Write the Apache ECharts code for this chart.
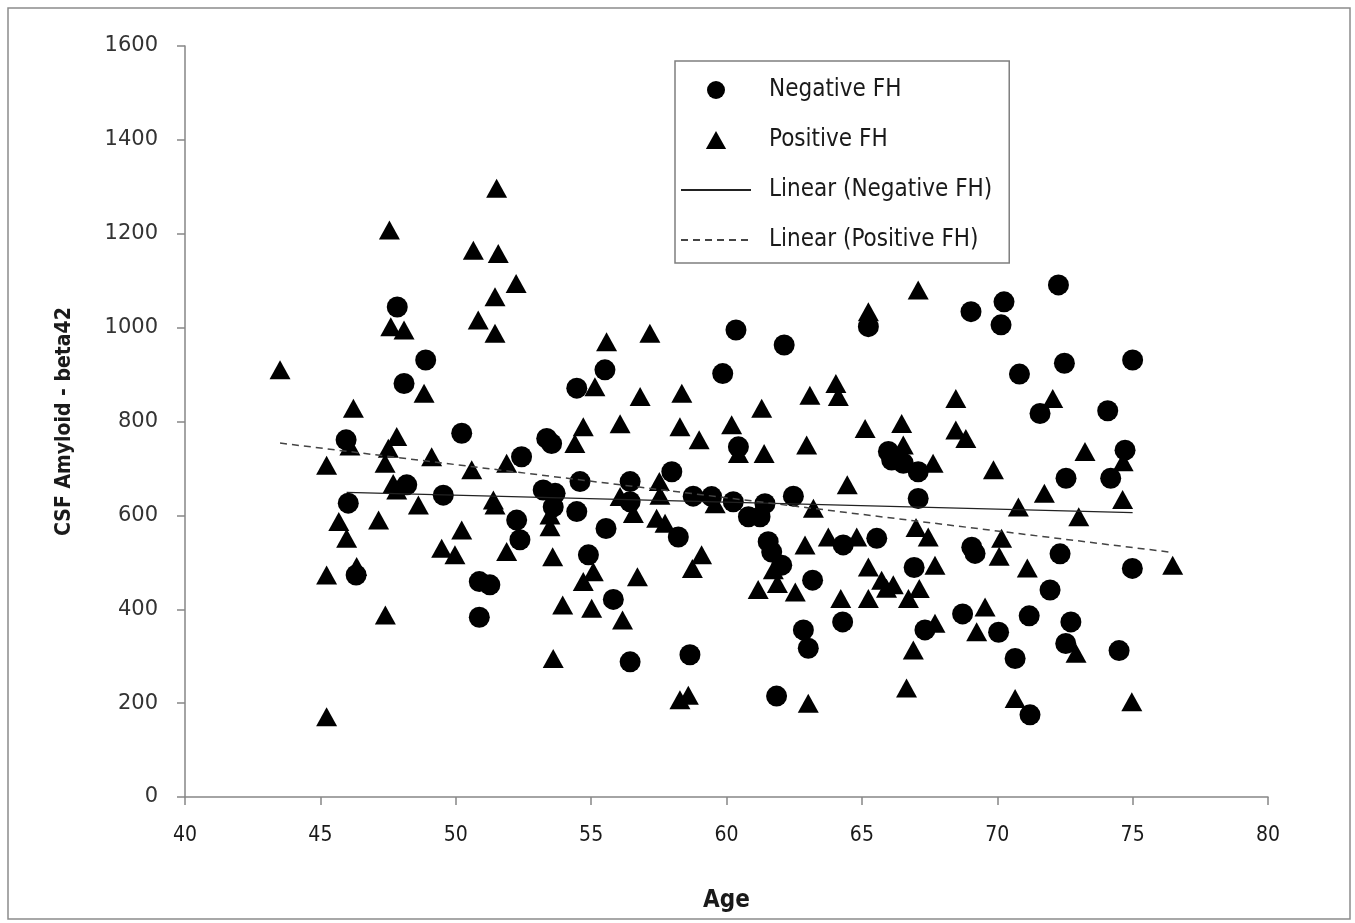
<!DOCTYPE html>
<html>
<head>
<meta charset="utf-8">
<title>CSF Amyloid - beta42 vs Age</title>
<script src="https://cdn.jsdelivr.net/npm/echarts@6/dist/echarts.min.js"></script>
<style>
  html, body { margin: 0; padding: 0; background: #fff; }
  #chart { width: 1355px; height: 923px; }
</style>
</head>
<body>
<div id="chart"></div>
<script>
// axis ticks
const xTicks = [40, 45, 50, 55, 60, 65, 70, 75, 80];
const yTicks = [0, 200, 400, 600, 800, 1000, 1200, 1400, 1600];

// Negative FH  [age, CSF amyloid beta42]
const negativeFH = [
  [47.84, 1044], [48.89, 931], [48.09, 881], [50.22, 775], [45.95, 761],
  [46.03, 626], [46.32, 473], [48.19, 665], [49.54, 643], [50.87, 459],
  [51.26, 452], [50.87, 383], [52.25, 590], [52.37, 548], [52.43, 725],
  [53.23, 654], [53.67, 647], [53.60, 618], [53.36, 764], [53.54, 753],
  [54.47, 871], [55.51, 910], [54.59, 672], [54.47, 608], [55.55, 572],
  [54.90, 516], [55.82, 421], [56.44, 288], [56.44, 672], [56.44, 629],
  [57.98, 693], [58.22, 554], [58.65, 303], [58.77, 641], [59.45, 640],
  [59.86, 902], [60.35, 995], [60.44, 746], [60.25, 629], [60.81, 597],
  [61.24, 597], [61.42, 625], [61.54, 544], [61.67, 522], [62.04, 494],
  [61.85, 215], [62.13, 963], [62.47, 641], [62.84, 356], [63.02, 317],
  [63.18, 462], [64.31, 537], [64.29, 373], [65.24, 1002], [65.55, 551],
  [65.98, 736], [66.10, 718], [66.53, 711], [67.08, 693], [67.08, 636],
  [66.93, 489], [67.33, 356], [68.72, 390], [69.03, 1034], [69.06, 532],
  [69.18, 519], [70.05, 351], [70.25, 1055], [70.14, 1006], [70.66, 295],
  [70.82, 901], [71.18, 386], [71.21, 175], [71.58, 817], [71.95, 441],
  [72.26, 1091], [72.32, 518], [72.48, 924], [72.54, 679], [72.53, 327],
  [72.72, 373], [74.08, 823], [74.19, 679], [74.50, 312], [74.72, 739],
  [75.00, 931], [74.99, 487]
];

// Positive FH  [age, CSF amyloid beta42]
const positiveFH = [
  [43.51, 910], [45.23, 707], [45.23, 473], [45.23, 171], [45.68, 587],
  [45.97, 551], [46.09, 748], [46.22, 828], [46.34, 491], [47.15, 590],
  [47.40, 388], [47.39, 711], [47.51, 743], [47.55, 1208], [47.60, 1002],
  [47.82, 768], [47.69, 668], [47.82, 654], [48.09, 995], [48.62, 622],
  [48.83, 860], [49.11, 725], [49.48, 530], [49.97, 516], [50.22, 569],
  [50.59, 697], [50.65, 1165], [50.83, 1016], [51.39, 633], [51.45, 622],
  [51.45, 1066], [51.45, 988], [51.51, 1297], [51.57, 1158], [51.88, 523],
  [51.88, 711], [52.23, 1094], [53.48, 601], [53.48, 576], [53.58, 512],
  [53.60, 295], [53.95, 409], [54.40, 753], [54.71, 789], [55.08, 480],
  [54.71, 459], [55.02, 402], [55.14, 874], [55.57, 970], [56.07, 795],
  [56.07, 640], [56.16, 377], [56.56, 604], [56.71, 469], [56.81, 853],
  [57.17, 988], [57.42, 594], [57.73, 583], [57.52, 672], [57.54, 643],
  [58.28, 789], [58.35, 860], [58.28, 207], [58.59, 217], [58.74, 487],
  [59.08, 516], [58.99, 761], [59.58, 625], [60.19, 793], [60.44, 732],
  [61.17, 442], [61.30, 828], [61.39, 732], [61.73, 484], [61.88, 455],
  [62.54, 437], [62.90, 537], [62.96, 750], [63.02, 200], [63.08, 856],
  [63.21, 615], [63.76, 554], [64.04, 881], [64.13, 853], [64.22, 423],
  [64.46, 665], [64.81, 554], [65.12, 785], [65.24, 1034], [65.24, 490],
  [65.24, 423], [65.73, 462], [66.16, 452], [65.91, 445], [66.47, 796],
  [66.53, 750], [66.65, 232], [66.90, 313], [66.72, 423], [67.12, 444],
  [67.00, 574], [67.45, 554], [67.08, 1080], [67.63, 711], [67.70, 494],
  [67.70, 370], [68.47, 849], [68.47, 782], [68.84, 764], [69.24, 352],
  [69.55, 405], [69.86, 697], [70.07, 513], [70.16, 551], [70.66, 210],
  [70.78, 618], [71.11, 488], [71.74, 647], [72.05, 849], [72.91, 306],
  [73.01, 597], [73.24, 736], [74.63, 634], [74.65, 714], [74.97, 203],
  [76.48, 494]
];

// trend lines, end points
const trendNegative = [[45.97, 649], [75.0, 606]];
const trendPositive = [[43.51, 754], [76.48, 521]];

const axisGrey = "#868686";
const condensed = "'DejaVu Sans Condensed', 'Liberation Sans Narrow', 'DejaVu Sans', sans-serif";

const chart = echarts.init(document.getElementById("chart"));

const option = {
  backgroundColor: "#fff",
  animation: false,
  graphic: [
    {
      type: "rect",
      shape: { x: 8, y: 8, width: 1342, height: 911 },
      style: { fill: "none", stroke: "#8c8c8c", lineWidth: 1.5 },
      silent: true
    }
  ],
  grid: { left: 185, right: 87, top: 46, bottom: 126 },
  legend: {
    orient: "vertical",
    left: 675,
    top: 61,
    padding: [17, 17, 11, 5],
    itemGap: 26,
    itemWidth: 70,
    itemHeight: 18,
    borderColor: "#7f7f7f",
    borderWidth: 1.5,
    textStyle: {
      fontFamily: condensed,
      fontSize: 24,
      color: "#1a1a1a",
      padding: [0, 0, 0, 13]
    },
    data: [
      { name: "Negative FH", icon: "circle" },
      { name: "Positive FH", icon: "path://M9,0 L18,16 L0,16 Z" },
      { name: "Linear (Negative FH)", itemStyle: { opacity: 0 } },
      { name: "Linear (Positive FH)", itemStyle: { opacity: 0 } }
    ]
  },
  xAxis: {
    type: "value",
    min: 40,
    max: 80,
    interval: 5,
    name: "Age",
    nameLocation: "middle",
    nameGap: 92,
    nameTextStyle: { fontFamily: condensed, fontWeight: "bold", fontSize: 24, color: "#1a1a1a" },
    axisLine: { show: true, onZero: false, lineStyle: { color: axisGrey, width: 1.5 } },
    axisTick: { show: true, length: 8, lineStyle: { color: axisGrey, width: 1.5 } },
    axisLabel: {
      margin: 28,
      fontFamily: condensed,
      fontSize: 21,
      color: "#1a1a1a",
      customValues: xTicks
    },
    splitLine: { show: false }
  },
  yAxis: {
    type: "value",
    min: 0,
    max: 1600,
    interval: 200,
    name: "CSF Amyloid - beta42",
    nameLocation: "middle",
    nameGap: 110,
    nameTextStyle: { fontFamily: condensed, fontWeight: "bold", fontSize: 21, color: "#1a1a1a" },
    axisLine: { show: true, lineStyle: { color: axisGrey, width: 1.5 } },
    axisTick: { show: true, length: 8, lineStyle: { color: axisGrey, width: 1.5 } },
    axisLabel: {
      margin: 27,
      fontFamily: "'DejaVu Sans', sans-serif",
      fontSize: 21,
      color: "#333",
      customValues: yTicks,
      formatter: (v) => String(v)
    },
    splitLine: { show: false }
  },
  series: [
    {
      name: "Negative FH",
      type: "scatter",
      symbol: "circle",
      symbolSize: 21,
      itemStyle: { color: "#000", opacity: 1 },
      data: negativeFH
    },
    {
      name: "Positive FH",
      type: "scatter",
      symbol: "triangle",
      symbolSize: [21, 19],
      itemStyle: { color: "#000", opacity: 1 },
      data: positiveFH
    },
    {
      name: "Linear (Negative FH)",
      type: "line",
      symbol: "none",
      lineStyle: { color: "#222", width: 1.3 },
      itemStyle: { color: "#222" },
      data: trendNegative,
      z: 3
    },
    {
      name: "Linear (Positive FH)",
      type: "line",
      symbol: "none",
      lineStyle: { color: "#444", width: 1.5, type: [7, 5] },
      itemStyle: { color: "#444" },
      data: trendPositive,
      z: 3
    }
  ]
};

chart.setOption(option);
</script>
</body>
</html>
